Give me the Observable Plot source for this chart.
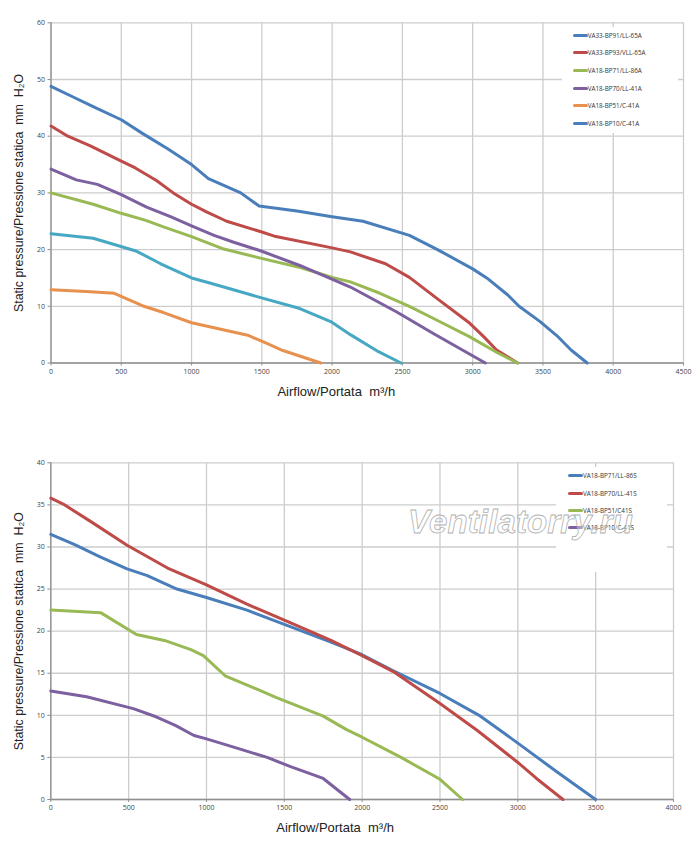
<!DOCTYPE html>
<html><head><meta charset="utf-8">
<script src="https://cdn.jsdelivr.net/npm/d3@7"></script>
<script src="https://cdn.jsdelivr.net/npm/@observablehq/plot@0.6"></script>
<style>
body{margin:0;background:#fff;}
#wrap{position:relative;width:700px;height:850px;overflow:hidden;}
.chart{position:absolute;left:0;}
.legend{position:absolute;background:#fff;font-family:"Open Sans",sans-serif;font-size:6.3px;color:#333;}
.item{position:absolute;display:flex;align-items:center;height:10px;white-space:nowrap;}
.sw{width:15px;height:3px;border-radius:1.5px;}
#wm{position:absolute;left:0;top:0;pointer-events:none;}
</style></head>
<body><div id="wrap"></div>
<script>
// ---------- Top chart data ----------
const topXTicks = [0,500,1000,1500,2000,2500,3000,3500,4000,4500];
const topYTicks = [0,10,20,30,40,50,60];
const topNames = ["VA33-BP91/LL-65A","VA33-BP93/VLL-65A","VA18-BP71/LL-86A","VA18-BP70/LL-41A","VA18-BP51/C-41A","VA18-BP10/C-41A"];
const topLineColors = ["#4A7EBB","#BE4B48","#98B954","#7D60A0","#E8914F","#46A8C2"];
const topSwatchColors = ["#4A7EBB","#BE4B48","#98B954","#7D60A0","#E8914F","#4A7EBB"];

const bp91Flow = [0,150,300,500,650,830,1000,1120,1350,1480,1750,2000,2220,2550,2750,3000,3100,3250,3330,3480,3600,3700,3815];
const bp91Pres = [48.8,47,45.2,42.9,40.5,37.8,35,32.5,30,27.7,26.8,25.8,25.0,22.5,20,16.6,15,12,10,7.3,4.8,2.3,0];
const bp93Flow = [0,120,280,500,600,750,870,1000,1110,1250,1500,1600,2000,2130,2380,2550,2750,2980,3080,3170,3320];
const bp93Pres = [41.8,40,38.3,35.6,34.4,32.2,30,28,26.6,25,23.1,22.3,20.3,19.6,17.5,15.1,11.3,7,4.6,2.3,0];
const bp71Flow = [0,300,500,680,800,1000,1230,1490,1780,2000,2130,2340,2550,2750,2980,3170,3320];
const bp71Pres = [30,28,26.4,25.1,24,22.3,20.1,18.5,16.8,15.1,14.3,12.3,10,7.5,4.6,1.9,0];
const bp70Flow = [0,180,330,500,680,850,1000,1160,1300,1490,1770,1990,2130,2460,2720,3090];
const bp70Pres = [34.2,32.3,31.5,29.7,27.5,25.8,24.2,22.5,21.3,19.8,17.2,14.9,13.4,9,5.2,0];
const bp51Flow = [0,250,450,650,800,1000,1200,1400,1540,1650,1920];
const bp51Pres = [12.9,12.6,12.3,10.1,8.9,7.1,6,4.9,3.4,2.2,0];
const bp10Flow = [0,300,450,610,780,1000,1130,1440,1770,1990,2130,2330,2490];
const bp10Pres = [22.8,22,20.9,19.7,17.5,15,14.1,11.9,9.6,7.3,5,2,0];

// ---------- Bottom chart data ----------
const botXTicks = [0,500,1000,1500,2000,2500,3000,3500,4000];
const botYTicks = [0,5,10,15,20,25,30,35,40];
const botNames = ["VA18-BP71/LL-86S","VA18-BP70/LL-41S","VA18-BP51/C41S","VA18-BP10/C-41S"];
const botColors = ["#4A7EBB","#BE4B48","#98B954","#7D60A0"];

const s71Flow = [0,150,320,490,620,810,1000,1260,1500,1800,2000,2200,2500,2760,3000,3250,3500];
const s71Pres = [31.5,30.3,28.8,27.4,26.6,25,24,22.5,20.8,18.7,17.2,15.3,12.6,9.9,6.7,3.3,0];
const s70Flow = [0,80,250,490,750,1000,1260,1500,1800,2000,2200,2500,2740,3000,3120,3290];
const s70Pres = [35.8,35.1,33.1,30.2,27.5,25.5,23.2,21.3,18.9,17.1,15.2,11.4,8.2,4.4,2.5,0];
const s51Flow = [0,320,550,730,900,980,1120,1300,1450,1750,1900,2000,2250,2500,2645];
const s51Pres = [22.5,22.2,19.6,18.9,17.8,17.1,14.7,13.3,12.1,9.9,8.3,7.4,5,2.4,0];
const s10Flow = [0,230,530,680,800,920,1000,1180,1390,1540,1750,1920];
const s10Pres = [12.9,12.2,10.8,9.8,8.8,7.6,7.2,6.2,5,3.9,2.5,0];

const xTitle = "Airflow/Portata\u00a0\u00a0m³/h";
const yTitle = "Static pressure/Pressione statica\u00a0\u00a0mm\u00a0\u00a0H₂O";
const watermark = "Ventilatorry.ru";

const topSeries = [[bp91Flow,bp91Pres],[bp93Flow,bp93Pres],[bp71Flow,bp71Pres],[bp70Flow,bp70Pres],[bp51Flow,bp51Pres],[bp10Flow,bp10Pres]]
  .map(([f,p],i)=>({pts:d3.zip(f,p), color:topLineColors[i]}));
const botSeries = [[s71Flow,s71Pres],[s70Flow,s70Pres],[s51Flow,s51Pres],[s10Flow,s10Pres]]
  .map(([f,p],i)=>({pts:d3.zip(f,p), color:botColors[i]}));

function chart({series, xTicks, yTicks, width, height, margins, xTitleDx}) {
  const xd = [xTicks[0], xTicks[xTicks.length-1]];
  const yd = [yTicks[0], yTicks[yTicks.length-1]];
  return Plot.plot({
    width, height, ...margins,
    x:{domain:xd},
    y:{domain:yd},
    style:{fontFamily:"Open Sans, sans-serif", fontSize:"7px", color:"#444", background:"transparent", overflow:"visible"},
    marks:[
      Plot.ruleX(xTicks, {stroke:"#cdcdcd", strokeWidth:1.3}),
      Plot.ruleY(yTicks, {stroke:"#cdcdcd", strokeWidth:1.3}),
      Plot.ruleX([xd[0]], {stroke:"#8f8f8f", strokeWidth:1.3}),
      Plot.ruleY([yd[0]], {stroke:"#8f8f8f", strokeWidth:1.3}),
      Plot.axisX({ticks:xTicks, tickSize:3, tickPadding:3, stroke:"#8f8f8f", label:null, tickFormat:d=>String(d)}),
      Plot.axisY({ticks:yTicks, tickSize:3, tickPadding:3, stroke:"#8f8f8f", label:null, tickFormat:d=>String(d)}),
      ...series.map(s=>Plot.line(s.pts, {x:d=>d[0], y:d=>d[1], stroke:s.color, strokeWidth:3, strokeLinejoin:"round", strokeLinecap:"round"})),
      Plot.text([xTitle], {text:d=>d, frameAnchor:"bottom", textAnchor:"middle", dy:32.5, dx:xTitleDx, fontSize:13, fontFamily:"Liberation Sans, Arial, sans-serif", fill:"#222"}),
      Plot.text([yTitle], {text:d=>d, frameAnchor:"left", textAnchor:"middle", dx:-32, rotate:-90, fontSize:12.4, fontFamily:"Liberation Sans, Arial, sans-serif", fill:"#222"})
    ]
  });
}

const wrap = document.getElementById("wrap");

const topChart = chart({series:topSeries, xTicks:topXTicks, yTicks:topYTicks, width:700, height:430,
  margins:{marginLeft:50.5, marginRight:17, marginTop:22.3, marginBottom:67.5}, xTitleDx:-31});
topChart.classList.add("chart"); topChart.style.top = "0px";
wrap.appendChild(topChart);

const botChart = chart({series:botSeries, xTicks:botXTicks, yTicks:botYTicks, width:700, height:420,
  margins:{marginLeft:50.3, marginRight:27, marginTop:32.3, marginBottom:51}, xTitleDx:-27});
botChart.classList.add("chart"); botChart.style.top = "430px";
wrap.appendChild(botChart);

function legend(names, colors, box, spacing, firstY, swatchX) {
  const div = document.createElement("div");
  div.className = "legend";
  Object.assign(div.style, {left:box[0]+"px", top:box[1]+"px", width:box[2]+"px", height:box[3]+"px"});
  names.forEach((n,i)=>{
    const it = document.createElement("div");
    it.className = "item";
    it.style.left = swatchX+"px";
    it.style.top = (firstY + i*spacing - 5)+"px";
    const sw = document.createElement("div");
    sw.className = "sw"; sw.style.background = colors[i];
    const tx = document.createElement("span"); tx.textContent = n;
    it.appendChild(sw); it.appendChild(tx);
    div.appendChild(it);
  });
  wrap.appendChild(div);
}
legend(topNames, topSwatchColors, [562,27,116,106], 17.7, 8, 10.7);
legend(botNames, botColors, [556,467,111,105], 17.4, 8.7, 12);

// watermark
const ns = "http://www.w3.org/2000/svg";
const wm = document.createElementNS(ns, "svg");
wm.setAttribute("id","wm"); wm.setAttribute("width","700"); wm.setAttribute("height","850");
const wmText = document.createElementNS(ns, "text");
wmText.setAttribute("x","408"); wmText.setAttribute("y","533");
wmText.setAttribute("font-family","Liberation Sans, Arial, sans-serif");
wmText.setAttribute("font-size","33"); wmText.setAttribute("font-weight","bold"); wmText.setAttribute("font-style","italic");
wmText.setAttribute("fill","rgba(255,255,255,0.35)"); wmText.setAttribute("stroke","#b0b0b0"); wmText.setAttribute("stroke-width","0.8");
wmText.setAttribute("textLength","225");
wmText.textContent = watermark;
wm.appendChild(wmText);
wrap.appendChild(wm);
</script></body></html>
